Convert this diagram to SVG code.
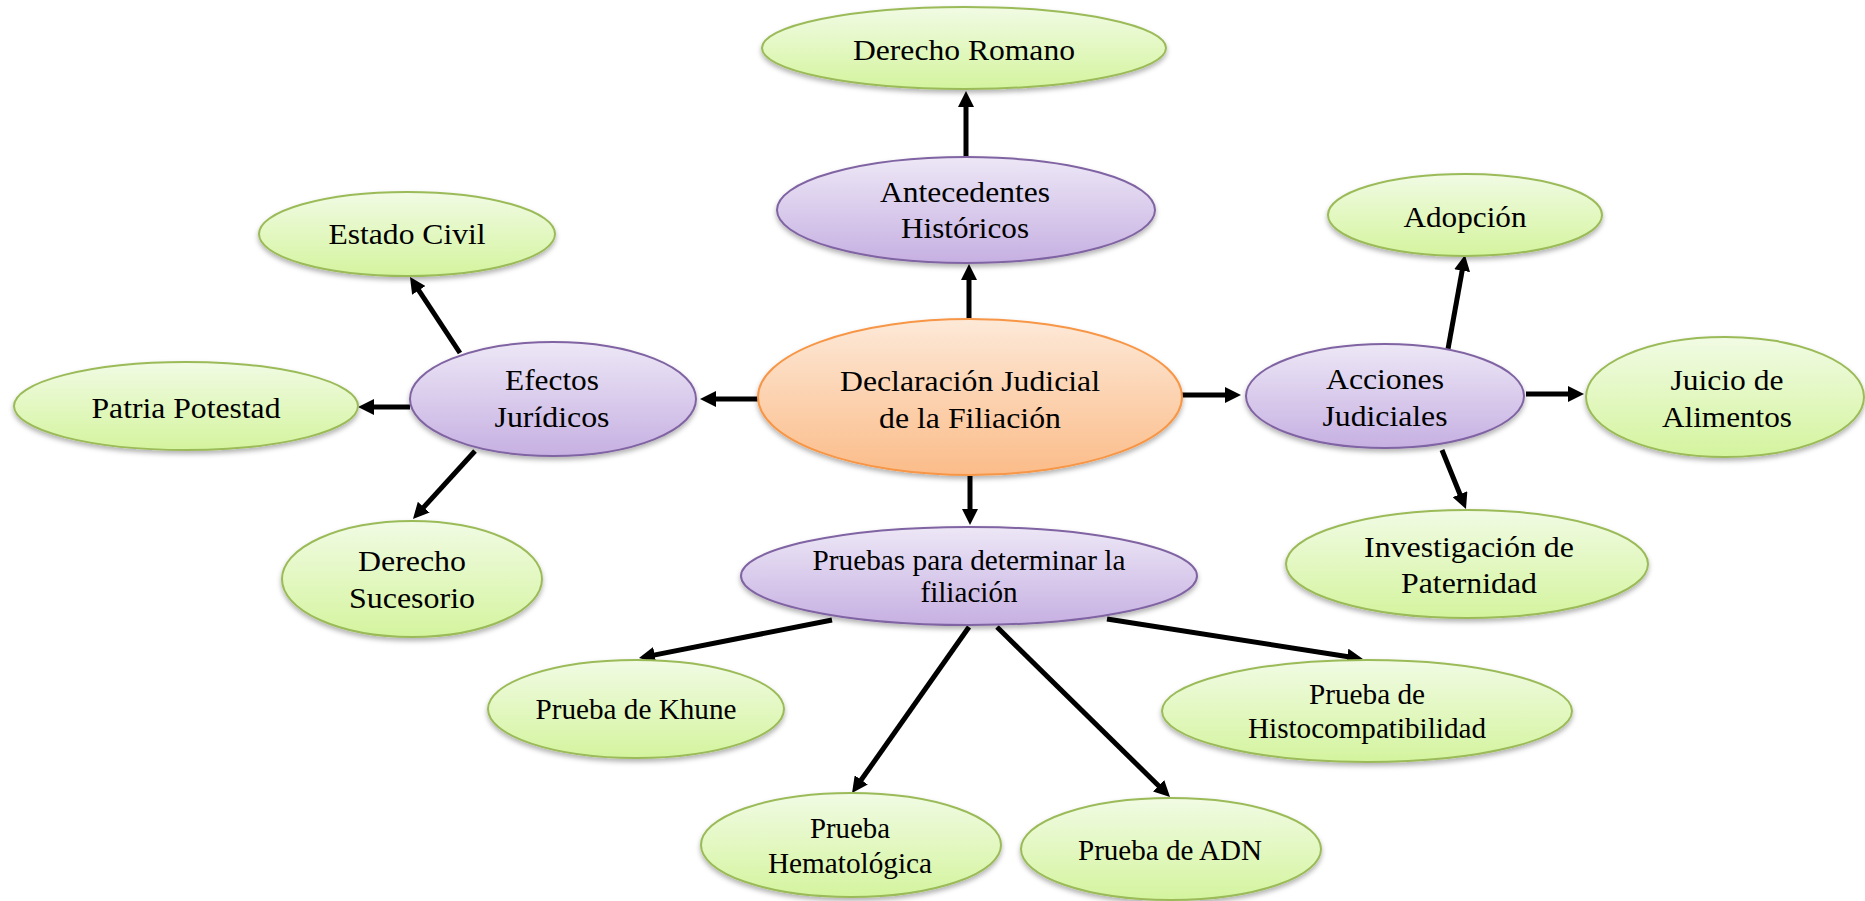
<svg xmlns="http://www.w3.org/2000/svg" width="1865" height="901" viewBox="0 0 1865 901">
<style>
.t{font-family:"Liberation Serif","Times New Roman",serif;fill:#000;text-anchor:middle;}
.f28{font-size:29px;}
.f26{font-size:28.5px;}
.g{fill:url(#gG);stroke:#9bbb59;stroke-width:2;filter:url(#sh);}
.p{fill:url(#gP);stroke:#8064a2;stroke-width:2;filter:url(#sh);}
.o{fill:url(#gO);stroke:#f79646;stroke-width:2;filter:url(#sh);}
.c{stroke:#000;stroke-width:5;fill:none;marker-end:url(#ah);}
</style>
<defs>
<linearGradient id="gG" x1="0" y1="0" x2="0" y2="1"><stop offset="0" stop-color="#f1fbe4"/><stop offset="1" stop-color="#d4f49e"/></linearGradient>
<linearGradient id="gP" x1="0" y1="0" x2="0" y2="1"><stop offset="0" stop-color="#ede7f6"/><stop offset="1" stop-color="#c6b0e2"/></linearGradient>
<linearGradient id="gO" x1="0" y1="0" x2="0" y2="1"><stop offset="0" stop-color="#fde9d8"/><stop offset="1" stop-color="#fbbc89"/></linearGradient>
<filter id="sh" x="-10%" y="-10%" width="120%" height="130%"><feDropShadow dx="0" dy="3" stdDeviation="2.5" flood-color="#000" flood-opacity="0.3"/></filter>
<marker id="ah" markerUnits="userSpaceOnUse" viewBox="0 0 16 16" markerWidth="16" markerHeight="16" refX="6" refY="8" orient="auto"><path d="M0,0 L16,8 L0,16 Z" fill="#000"/></marker>
</defs>
<g id="connectors">
<line class="c" x1="969" y1="319" x2="969" y2="274"/>
<line class="c" x1="966" y1="157" x2="966" y2="101"/>
<line class="c" x1="758" y1="399" x2="710" y2="399"/>
<line class="c" x1="460" y1="353" x2="415.5" y2="285.4"/>
<line class="c" x1="410" y1="407" x2="368" y2="407"/>
<line class="c" x1="475" y1="451" x2="419.7" y2="511.6"/>
<line class="c" x1="1181" y1="395" x2="1231" y2="395"/>
<line class="c" x1="1448" y1="349" x2="1463.2" y2="264.8"/>
<line class="c" x1="1526" y1="394" x2="1574" y2="394"/>
<line class="c" x1="1442" y1="450" x2="1462.2" y2="499.7"/>
<line class="c" x1="970" y1="476" x2="970" y2="515"/>
<line class="c" x1="832" y1="620" x2="648.8" y2="656.1"/>
<line class="c" x1="969" y1="627" x2="857.8" y2="784.8"/>
<line class="c" x1="997" y1="627" x2="1162.9" y2="790"/>
<line class="c" x1="1107" y1="619" x2="1353.1" y2="657.5"/>
</g>
<g id="n-derecho-romano">
<ellipse class="g" cx="964" cy="48" rx="202" ry="41"/>
<text class="t f28" x="964" y="60" textLength="222" lengthAdjust="spacingAndGlyphs">Derecho Romano</text>
</g>
<g id="n-antecedentes">
<ellipse class="p" cx="966" cy="210" rx="189" ry="53"/>
<text class="t f28" x="965" y="202" textLength="170" lengthAdjust="spacingAndGlyphs">Antecedentes</text>
<text class="t f28" x="965" y="238" textLength="128" lengthAdjust="spacingAndGlyphs">Históricos</text>
</g>
<g id="n-central">
<ellipse class="o" cx="970" cy="397" rx="212" ry="78"/>
<text class="t f28" x="970" y="391" textLength="260" lengthAdjust="spacingAndGlyphs">Declaración Judicial</text>
<text class="t f28" x="970" y="428" textLength="182" lengthAdjust="spacingAndGlyphs">de la Filiación</text>
</g>
<g id="n-estado-civil">
<ellipse class="g" cx="407" cy="234" rx="148" ry="42"/>
<text class="t f28" x="407" y="244" textLength="157" lengthAdjust="spacingAndGlyphs">Estado Civil</text>
</g>
<g id="n-patria-potestad">
<ellipse class="g" cx="186" cy="406" rx="172" ry="44"/>
<text class="t f28" x="186" y="418" textLength="189" lengthAdjust="spacingAndGlyphs">Patria Potestad</text>
</g>
<g id="n-efectos">
<ellipse class="p" cx="553" cy="399" rx="143" ry="57"/>
<text class="t f28" x="552" y="390" textLength="94" lengthAdjust="spacingAndGlyphs">Efectos</text>
<text class="t f28" x="552" y="427" textLength="115" lengthAdjust="spacingAndGlyphs">Jurídicos</text>
</g>
<g id="n-derecho-sucesorio">
<ellipse class="g" cx="412" cy="579" rx="130" ry="58"/>
<text class="t f28" x="412" y="571" textLength="108" lengthAdjust="spacingAndGlyphs">Derecho</text>
<text class="t f28" x="412" y="608" textLength="126" lengthAdjust="spacingAndGlyphs">Sucesorio</text>
</g>
<g id="n-adopcion">
<ellipse class="g" cx="1465" cy="215" rx="137" ry="41"/>
<text class="t f28" x="1465" y="227" textLength="123" lengthAdjust="spacingAndGlyphs">Adopción</text>
</g>
<g id="n-acciones">
<ellipse class="p" cx="1385" cy="396" rx="139" ry="52"/>
<text class="t f28" x="1385" y="389" textLength="118" lengthAdjust="spacingAndGlyphs">Acciones</text>
<text class="t f28" x="1385" y="426" textLength="125" lengthAdjust="spacingAndGlyphs">Judiciales</text>
</g>
<g id="n-juicio">
<ellipse class="g" cx="1725" cy="397" rx="139" ry="60"/>
<text class="t f28" x="1727" y="390" textLength="113" lengthAdjust="spacingAndGlyphs">Juicio de</text>
<text class="t f28" x="1727" y="427" textLength="130" lengthAdjust="spacingAndGlyphs">Alimentos</text>
</g>
<g id="n-investigacion">
<ellipse class="g" cx="1467" cy="564" rx="181" ry="54"/>
<text class="t f28" x="1469" y="557" textLength="210" lengthAdjust="spacingAndGlyphs">Investigación de</text>
<text class="t f28" x="1469" y="593" textLength="136" lengthAdjust="spacingAndGlyphs">Paternidad</text>
</g>
<g id="n-pruebas">
<ellipse class="p" cx="969" cy="576" rx="228" ry="49"/>
<text class="t f26" x="969" y="570" textLength="313" lengthAdjust="spacingAndGlyphs">Pruebas para determinar la</text>
<text class="t f26" x="969" y="602" textLength="97" lengthAdjust="spacingAndGlyphs">filiación</text>
</g>
<g id="n-khune">
<ellipse class="g" cx="636" cy="709" rx="148" ry="49"/>
<text class="t f26" x="636" y="719" textLength="201" lengthAdjust="spacingAndGlyphs">Prueba de Khune</text>
</g>
<g id="n-hematologica">
<ellipse class="g" cx="851" cy="845" rx="150" ry="52"/>
<text class="t f26" x="850" y="838" textLength="80" lengthAdjust="spacingAndGlyphs">Prueba</text>
<text class="t f26" x="850" y="873" textLength="164" lengthAdjust="spacingAndGlyphs">Hematológica</text>
</g>
<g id="n-adn">
<ellipse class="g" cx="1171" cy="849" rx="150" ry="51"/>
<text class="t f26" x="1170" y="860" textLength="184" lengthAdjust="spacingAndGlyphs">Prueba de ADN</text>
</g>
<g id="n-histo">
<ellipse class="g" cx="1367" cy="711" rx="205" ry="51"/>
<text class="t f26" x="1367" y="704" textLength="116" lengthAdjust="spacingAndGlyphs">Prueba de</text>
<text class="t f26" x="1367" y="738" textLength="238" lengthAdjust="spacingAndGlyphs">Histocompatibilidad</text>
</g>
</svg>
